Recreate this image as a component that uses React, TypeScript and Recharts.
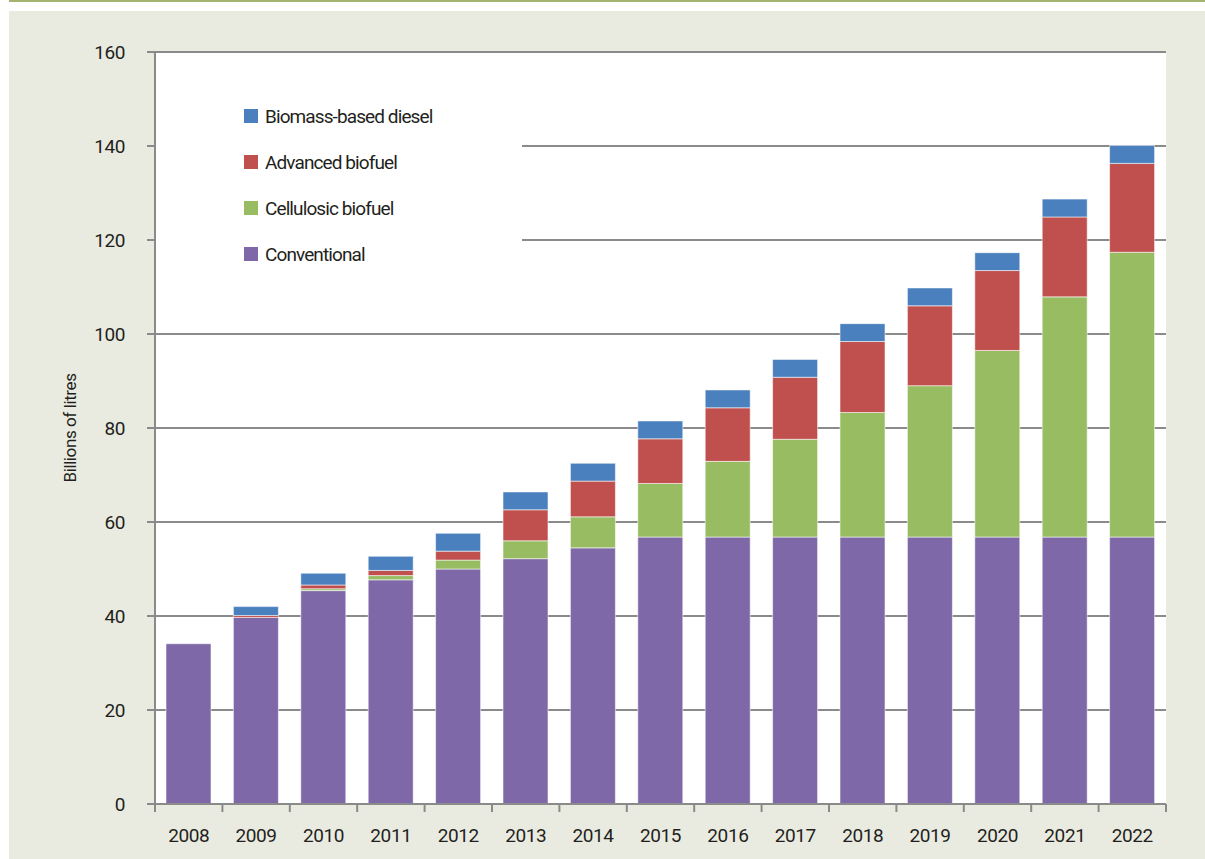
import React from 'react';
import { BarChart, Bar, XAxis, YAxis, CartesianGrid, Legend } from 'recharts';

const years = ['2008', '2009', '2010', '2011', '2012', '2013', '2014', '2015', '2016', '2017', '2018', '2019', '2020', '2021', '2022'];
const conventional = [34.1, 39.7, 45.4, 47.7, 50.0, 52.2, 54.5, 56.8, 56.8, 56.8, 56.8, 56.8, 56.8, 56.8, 56.8];
const cellulosic = [0, 0, 0.4, 0.9, 1.9, 3.8, 6.6, 11.4, 16.1, 20.8, 26.5, 32.2, 39.7, 51.1, 60.6];
const advanced = [0, 0.4, 0.8, 1.1, 1.9, 6.6, 7.6, 9.5, 11.4, 13.2, 15.1, 17.0, 17.0, 17.0, 18.9];
const biomassDiesel = [0, 1.9, 2.5, 3.0, 3.8, 3.8, 3.8, 3.8, 3.8, 3.8, 3.8, 3.8, 3.8, 3.8, 3.8];
const yTicks = [0, 20, 40, 60, 80, 100, 120, 140, 160];

const series = [
  { key: 'conventional', name: 'Conventional', color: '#7e68a7' },
  { key: 'cellulosic', name: 'Cellulosic biofuel', color: '#97bc62' },
  { key: 'advanced', name: 'Advanced biofuel', color: '#c0504d' },
  { key: 'biomass', name: 'Biomass-based diesel', color: '#4a80bd' },
];

const data = years.map((year, i) => ({
  year,
  conventional: conventional[i],
  cellulosic: cellulosic[i],
  advanced: advanced[i],
  biomass: biomassDiesel[i],
}));

const FONT = 'Roboto, "DejaVu Sans Condensed", sans-serif';
const SPACING = '-0.4px';
const TEXT = '#231f20';
const AXIS = '#8a8a8a';

const XTick = (props: any) => {
  const { x, y, payload, index, visibleTicksCount } = props;
  const half = payload.offset || 33.7;
  const top = y - 25;
  return (
    <g>
      <line x1={x - half} x2={x - half} y1={top} y2={top + 8} stroke={AXIS} strokeWidth={2} />
      {index === visibleTicksCount - 1 && (
        <line x1={x + half} x2={x + half} y1={top} y2={top + 8} stroke={AXIS} strokeWidth={2} />
      )}
      <text
        x={x}
        y={y}
        dy="0.71em"
        textAnchor="middle"
        fill={TEXT}
        fontSize={19}
        fontFamily={FONT}
        style={{ letterSpacing: SPACING }}
      >
        {payload.value}
      </text>
    </g>
  );
};

const LegendBox = () => (
  <div style={{ width: 366, height: 262, background: '#fff', position: 'relative' }}>
    {[...series].reverse().map((s, i) => (
      <div
        key={s.key}
        style={{ position: 'absolute', left: 88, top: 50 + i * 46, display: 'flex', alignItems: 'center', height: 24 }}
      >
        <span style={{ width: 14, height: 14, background: s.color, display: 'inline-block', marginRight: 7 }} />
        <span style={{ fontFamily: FONT, fontSize: 19, letterSpacing: '-0.9px', color: TEXT, whiteSpace: 'nowrap' }}>
          {s.name}
        </span>
      </div>
    ))}
  </div>
);

const App: React.FC = () => {
  return (
    <div style={{ position: 'relative', width: 1205, height: 859, background: '#fff' }}>
      <style>{'body{margin:0}'}</style>
      <div style={{ position: 'absolute', left: 9, top: 0, width: 1196, height: 2, background: '#a4b36e' }} />
      <div style={{ position: 'absolute', left: 9, top: 11, width: 1196, height: 848, background: '#eaebe0' }}>
        <BarChart
          width={1196}
          height={848}
          data={data}
          margin={{ top: 41, right: 39, bottom: 0, left: 0 }}
          barSize={45}
          style={{ fontFamily: FONT }}
        >
          <CartesianGrid vertical={false} stroke={AXIS} strokeWidth={2} fill="#ffffff" fillOpacity={1} />
          <XAxis
            dataKey="year"
            height={55}
            axisLine={{ stroke: AXIS, strokeWidth: 2 }}
            tickLine={false}
            tickSize={8}
            tickMargin={17}
            tick={<XTick />}
            interval={0}
          />
          <YAxis
            width={146}
            domain={[0, 160]}
            ticks={yTicks}
            interval={0}
            axisLine={{ stroke: AXIS, strokeWidth: 2 }}
            tickLine={{ stroke: AXIS, strokeWidth: 2 }}
            tickSize={8}
            tickMargin={22}
            tick={{ fill: TEXT, fontSize: 19, fontFamily: FONT, style: { letterSpacing: SPACING } }}
            label={{
              content: (p: any) => {
                const vb = p.viewBox || { x: 0, y: 41, width: 146, height: 752 };
                const cx = vb.x + 61;
                const cy = vb.y + vb.height / 2;
                return (
                  <text
                    x={cx}
                    y={cy}
                    transform={`rotate(-90 ${cx} ${cy})`}
                    textAnchor="middle"
                    dominantBaseline="central"
                    fill={TEXT}
                    fontSize={17}
                    fontFamily={FONT}
                    style={{ letterSpacing: SPACING }}
                  >
                    Billions of litres
                  </text>
                );
              },
            }}
          />
          <Legend
            layout="horizontal"
            verticalAlign="middle"
            align="center"
            wrapperStyle={{ left: 147, top: 43, width: 366, height: 262 }}
            content={<LegendBox />}
          />
          {series.map((s) => (
            <Bar
              key={s.key}
              dataKey={s.key}
              name={s.name}
              stackId="a"
              fill={s.color}
              stroke="rgba(255,255,255,0.55)"
              strokeWidth={1}
              isAnimationActive={false}
            />
          ))}
        </BarChart>
      </div>
    </div>
  );
};

export default App;
